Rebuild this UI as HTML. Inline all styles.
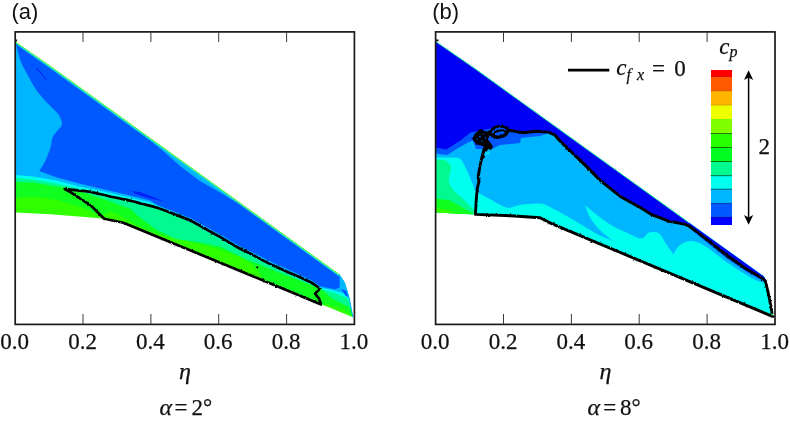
<!DOCTYPE html>
<html>
<head>
<meta charset="utf-8">
<title>Figure</title>
<style>
html,body{margin:0;padding:0;background:#fff;}
body{width:790px;height:422px;overflow:hidden;}
svg{display:block;}
.tk{font-family:"Liberation Serif",serif;font-size:23px;fill:#111;stroke:#111;stroke-width:0.25;}
.it{font-family:"Liberation Serif",serif;font-style:italic;fill:#111;stroke:#111;stroke-width:0.25;}
.lab{font-family:"Liberation Sans",sans-serif;font-size:22px;fill:#111;}
.fr{fill:none;stroke:#1a1a1a;stroke-width:1.7;}
.tick{stroke:#3a3a3a;stroke-width:1;}
.bl{fill:none;stroke:#000;stroke-width:2.6;stroke-linejoin:round;stroke-linecap:round;}
</style>
</head>
<body>
<svg width="790" height="422" viewBox="0 0 790 422">
<defs>
<clipPath id="wa"><path d="M15.2,41.7 L53.1,68.2 L339.3,274.6 L344.7,283.1 L349.3,298.5 L352.9,317.3 L123.4,222.8 L104.2,218.7 L91,217.5 L50.5,214.3 L15.2,212.5 Z"/></clipPath>
<clipPath id="wb"><path d="M436,41.7 L474.5,68.3 L763.5,276 L765.8,279.6 L769.2,294.2 L772.2,309.6 L773,317 L551.5,224.2 L540,217.8 L511,215.8 L475.6,214.4 L436,212.4 Z"/></clipPath>
<filter id="rough" x="-5%" y="-5%" width="110%" height="110%"><feTurbulence type="fractalNoise" baseFrequency="0.55" numOctaves="2" seed="3" result="n"/><feDisplacementMap in="SourceGraphic" in2="n" scale="2.2" xChannelSelector="R" yChannelSelector="G"/></filter>
</defs>
<rect width="790" height="422" fill="#fff"/>

<!-- ================= panel a ================= -->
<g clip-path="url(#wa)">
<!-- base: bright green -->
<rect x="10" y="30" width="350" height="300" fill="#30FF00"/>
<!-- green: above B5 -->
<path fill="#10FF20" d="M10,198 L15,198 L33.1,196.6 L56.2,199.7 L79.3,206.6 L94.7,212.8 L102,216 L110,211.5 L119,215 L137.9,225.5 L150,231.5 L165,236 L185.3,240.7 L220,249.5 L240,256.5 L252,264 L259,272 L264,283 L300,298 L323,307 L326,304 L338,307.5 L346,310.5 L352,316 L360,318 L360,30 L10,30 Z"/>
<!-- green-cyan: above B4 -->
<path fill="#00FA90" d="M10,182 L15,182 L33.1,182.5 L56.2,186.5 L64,187.5 L87,193.5 L100,198 L110.2,201.2 L119,205 L130,208.5 L137.9,216 L156.9,230 L175.8,239 L194.8,241.6 L220,246.4 L241,257 L271.5,269.5 L311,285 L322,290 L333,299 L347,306 L352,310 L360,310 L360,30 L10,30 Z"/>
<!-- cyan: above B3 -->
<path fill="#00FFEE" d="M10,178 L15,178 L33.1,179.5 L56.2,183.5 L79.3,189 L100,193.5 L131.5,201 L150,205 L175.8,216 L190.5,222.5 L231,245.5 L270.5,266 L311,284 L321,289 L335,293 L347,298 L352,304 L360,304 L360,30 L10,30 Z"/>
<!-- light blue: above B2 -->
<path fill="#00B6FF" d="M10,175 L15,175 L33.1,176.6 L56.2,180.4 L79.3,186.6 L102.4,191.2 L130,197.5 L150,202.5 L175.8,213.5 L190.5,220 L231,243 L270.5,263.5 L311,281.8 L320,287.5 L334,290.5 L343,293 L348,296 L352,300 L360,300 L360,30 L10,30 Z"/>
<!-- blue -->
<path fill="#0058FF" d="M15.6,42.5 C15.8,43.1 15.7,42.9 16.5,46.0 C17.4,49.1 18.9,56.6 20.7,61.3 C22.5,66.0 24.6,69.5 27.1,74.1 C29.6,78.7 32.4,84.4 35.6,89.0 C38.8,93.6 42.8,98.0 46.3,101.9 C49.8,105.8 54.3,109.3 56.9,112.5 C59.5,115.7 60.9,118.8 61.6,121.0 C62.4,123.2 62.1,124.4 61.4,126.0 C60.7,127.6 59.1,128.5 57.6,130.4 C56.1,132.3 53.7,134.6 52.5,137.5 C51.3,140.4 51.7,143.7 50.5,147.6 C49.3,151.5 47.3,156.9 45.4,160.8 C43.5,164.7 40.3,169.3 39.3,171.0 L56.2,177.3 L79.3,183.5 L102.4,188.9 L130,195.5 L150,200.5 L158,205.5 L174,211.5 L190.8,218.3 L206.2,226.8 L221.6,235.3 L237,244.5 L252.4,252.2 L271.5,262 L293.8,272 L311,280 L320.8,286.5 L334.7,289.3 L339.6,287.7 L339.6,276.8 L300,248.3 L240,204.6 L223,194.3 L200,181 L180,166 L162,150 L150,140.6 L100,104.6 L53,70.5 L19,46.5 Z"/>
<!-- dark streaks -->
<path fill="none" stroke="#0028F4" stroke-width="1.1" stroke-linecap="round" d="M36.7,68.4 L46.3,79.5"/><circle cx="33.5" cy="65.2" r="0.6" fill="#0028F4"/>
<path fill="#0020F8" d="M131,191 L140,192 L152,196.5 L164,201.5 L150,198.5 L136,194 Z"/>
<!-- tip details -->
<path fill="#0058FF" d="M341,289 L347,291 L349,298 L345,295 Z"/>
</g>
<!-- leading-edge rainbow -->
<path d="M15.2,42.6 L53.1,69.1 L339.3,275.5" fill="none" stroke="#20E8D0" stroke-width="1.2"/>
<path d="M15.2,41.7 L53.1,68.2 L339.3,274.6" fill="none" stroke="#80FF20" stroke-width="0.9"/>
<path d="M339.3,274.6 L344.7,283.1 L349.3,298.5 L352.9,317.3" fill="none" stroke="#00B6FF" stroke-width="1"/>
<!-- cf contour a -->
<g filter="url(#rough)">
<path class="bl" style="stroke-width:2.7" d="M321.1,304.4 L270.5,283.5 L249.2,274.7 L213.7,260 L170,242 L123.4,222.8 L104.2,218.7 L91,205.6 L70.8,192.4 L64.7,189 C68.1,189.4 79.4,190.4 85.3,191.2 C91.2,192.0 95.2,193.0 100.0,194.0 C104.8,195.0 108.5,196.1 113.8,197.3 C119.0,198.5 126.8,199.9 131.5,201.0 C136.2,202.1 137.6,202.6 142.0,203.8 C146.4,205.0 152.7,206.3 158.0,208.0 C163.3,209.7 168.5,211.9 174.0,214.0 C179.5,216.1 185.4,218.2 190.8,220.8 C196.2,223.4 201.1,226.5 206.2,229.3 C211.3,232.1 216.5,234.9 221.6,237.8 C226.7,240.8 231.9,244.2 237.0,247.0 C242.1,249.8 246.8,251.8 252.4,254.7 C258.0,257.6 263.6,261.0 270.5,264.3 C277.4,267.6 287.1,271.6 293.8,274.6 C300.6,277.6 306.6,280.2 311.0,282.5 C315.4,284.8 318.6,287.6 320.1,288.6 L315,293.7 L319.1,298.7 L321.1,304.4"/>
</g>
<circle cx="257.3" cy="267.3" r="1.1" fill="#000"/>

<!-- ================= panel b ================= -->
<g clip-path="url(#wb)">
<rect x="430" y="30" width="350" height="300" fill="#00FFEE"/>
<!-- bright green / green / green-cyan at root -->
<path fill="#00FA90" d="M430,159.5 L436,159.5 C437.7,159.7 443.5,159.5 446.0,160.8 C448.5,162.1 450.5,164.3 451.0,167.5 C451.5,170.7 448.5,176.3 448.8,180.0 C449.1,183.7 450.6,186.3 453.0,189.5 C455.4,192.7 459.7,195.8 463.0,199.0 C466.3,202.2 470.4,206.3 472.6,208.6 C474.8,210.9 475.4,212.3 476.0,213.0 L476,216 L430,216 Z"/>
<path fill="#10FF20" d="M430,198.6 L436,198.6 L450.2,200.6 L464.4,208.7 L473.5,213.8 L474,216 L430,216 Z"/>
<path fill="#30FF00" d="M430,207.7 L436,207.7 L446,209.7 L460.4,213.2 L462,216 L430,216 Z"/>
<!-- light blue -->
<path fill="#00B6FF" d="M430,157.5 L436,157.5 C438.7,157.5 448.0,157.3 452.0,157.5 C456.0,157.7 457.8,157.5 459.9,158.8 C462.0,160.1 463.1,163.0 464.5,165.5 C465.9,168.0 467.0,170.7 468.4,173.8 C469.8,176.9 471.3,181.0 472.6,184.0 C473.9,187.0 474.8,190.4 476.0,192.0 C477.2,193.6 477.6,192.2 480.0,193.5 C482.4,194.8 486.2,197.2 490.7,199.6 C495.2,202.0 501.9,206.8 507.0,207.7 C512.1,208.5 515.4,205.4 521.1,204.7 C526.8,204.0 535.9,202.9 541.4,203.7 C546.9,204.4 549.7,207.0 554.2,209.2 C558.7,211.4 563.6,214.3 568.4,217.0 C573.1,219.7 578.0,222.8 582.7,225.6 C587.5,228.4 591.8,231.5 596.9,234.1 C602.0,236.7 610.6,240.0 613.3,241.2 C611.0,239.3 603.6,233.8 599.7,229.8 C595.8,225.8 592.2,221.2 589.8,217.0 C587.4,212.8 586.0,206.9 585.2,204.9 C587.2,206.6 592.6,211.6 596.9,214.9 C601.2,218.2 606.4,222.1 611.1,224.9 C615.8,227.8 620.3,229.7 625.3,232.0 C630.3,234.3 637.0,238.5 641.0,238.6 C645.0,238.7 646.1,233.3 649.1,232.5 C652.1,231.7 656.5,231.8 659.2,233.5 C661.9,235.2 662.9,239.2 665.3,242.7 C667.7,246.2 672.2,252.4 673.6,254.3 C674.6,252.7 676.8,247.1 679.9,244.9 C683.0,242.7 687.8,240.7 692.3,241.1 C696.8,241.5 701.8,244.1 707.2,247.4 C712.6,250.7 717.6,255.9 724.6,260.8 C731.6,265.7 743.1,273.3 749.5,277.0 C755.9,280.7 760.9,282.0 763.2,283.0 L770,283 L770,30 L430,30 Z"/>
<!-- medium blue -->
<path fill="#0058FF" d="M430,153.6 L436,153.6 L447,155 L460,147 L467.6,142.8 L472.7,140.3 L476,149 L492,149 L500,145 L520,143 L521,138 L540,136 L548.6,133 L600,100 L500,60 L430,60 Z"/>
<path fill="#0058FF" d="M693,231 L708,243.5 L727,258.5 L746,271.5 L761,280 L764.4,278.5 L700,232 Z"/>
<!-- dark blue -->
<path fill="#0000F4" d="M436,41 L780,288 L770,284 L765,280 L761,277.4 L745.9,268.8 L726.9,255.5 L708,240.4 L689,226.1 L685.6,224.4 L669.4,221.4 L651.1,214.3 L641,208 L620.8,196.8 L600.5,180.6 L580.3,160.4 L567.7,148.6 L560,141 L555,135.3 L548.6,132.1 L536,131.2 L523.3,132.7 L509.4,130.2 L500,126.5 L491,128.5 L480,130.5 L470.5,132.4 L460.4,140.5 L446.2,149.6 L436,147.6 L430,147.6 L430,42 Z"/>
</g>
<path d="M436,41.7 L474.5,68.3 L689,222.6" fill="none" stroke="#40F0A0" stroke-width="1"/>
<!-- cf contour b -->
<g filter="url(#rough)">
<path class="bl" style="stroke-width:2.9" d="M483.7,150 L482.2,156.3 L480,166 L478,177.6 L479,181 L477.4,188 L476.5,196.8 L475.4,214.4 L511,215.8 L540,217.8 L551.5,223.6 L772.3,316.3 L771.5,309.6 L768.5,294.2 L765.4,281 L761,277.4 L745.9,268.8 L726.9,255.5 L708,240.4 L689,226.1 L685.6,224.4 L669.4,221.4 L651.1,214.3 L641,208 L620.8,196.8 L600.5,180.6 L580.3,160.4 L567.7,148.6 L560,141 L555,135.3 L548.6,132.1 L536,131.2 L523.3,132.7 L509.4,130.2"/>
<ellipse cx="499.2" cy="131.8" rx="8.8" ry="5.4" transform="rotate(-9 499.2 131.8)" class="bl" style="stroke-width:2.8"/>
<ellipse cx="499.8" cy="133.4" rx="6.2" ry="2.9" transform="rotate(-12 499.8 133.4)" class="bl" style="stroke-width:2.2"/>
<path fill="#000" stroke="#000" stroke-width="1.2" stroke-linejoin="round" d="M473.1,138.4 L475.4,134.1 L478.3,131.3 L480.6,129.6 L484,131.3 L487.3,132.2 L489.8,130.8 L491,133.6 L488.7,137 L487.3,139.8 L489.6,142.6 L492.3,146.4 L491.3,149.1 L487.7,148.5 L486.4,151 L483.4,151 L484.2,146.6 L483,145.5 L480.2,144.7 L476.4,143.6 L474.5,141.2 Z"/>
<g fill="#0058FF"><rect x="479.2" y="135.8" width="1.4" height="1.6"/><rect x="484.8" y="137.2" width="1.3" height="1.4"/><rect x="481.2" y="140.6" width="1.2" height="1.2"/><rect x="476.6" y="138.2" width="1" height="1.2"/><rect x="482.6" y="133.4" width="1.1" height="1.1"/></g>
<circle cx="482.8" cy="156.8" r="2" fill="#000"/>
</g>
<path fill="#00E8F0" d="M485.5,152.5 L489.5,152.3 L490,154.3 L486,154.6 Z"/>
<!-- legend line and text -->
<path d="M568,70.1 L609.3,70.1" stroke="#000" stroke-width="2.9" fill="none"/>
<text class="it" x="616.2" y="75.4" font-size="23">c</text>
<text class="it" x="626.6" y="80" font-size="16">f</text>
<text class="it" x="637" y="80" font-size="16">x</text>
<text class="tk" x="652" y="75.6">=</text>
<text class="tk" x="674.3" y="75.6">0</text>
<text class="it" x="719.2" y="54" font-size="23">c</text>
<text class="it" x="729.5" y="57" font-size="16">p</text>

<!-- colour bar -->
<g shape-rendering="crispEdges">
<rect x="710.5" y="70" width="21.5" height="7" fill="#FF0000"/>
<rect x="710.5" y="76.5" width="21.5" height="14.6" fill="#FF5A00"/>
<rect x="710.5" y="91" width="21.5" height="14.6" fill="#FFB400"/>
<rect x="710.5" y="105" width="21.5" height="14.6" fill="#EEFF00"/>
<rect x="710.5" y="119" width="21.5" height="14.8" fill="#80FF00"/>
<rect x="710.5" y="133.5" width="21.5" height="14.4" fill="#28FF00"/>
<rect x="710.5" y="147.5" width="21.5" height="14.4" fill="#00FF20"/>
<rect x="710.5" y="161.5" width="21.5" height="14.6" fill="#00FA90"/>
<rect x="710.5" y="175.7" width="21.5" height="14" fill="#00FFEE"/>
<rect x="710.5" y="189.2" width="21.5" height="14.6" fill="#00B6FF"/>
<rect x="710.5" y="203.4" width="21.5" height="14.4" fill="#0058FF"/>
<rect x="710.5" y="217.3" width="21.5" height="7.6" fill="#0000FF"/>
</g>
<g stroke="#063" stroke-width="0.8" opacity="0.85">
<path d="M710.5,133.5 H732 M710.5,147.5 H732 M710.5,161.5 H732" stroke="#030"/>
<path d="M710.5,175.7 H732 M710.5,189.2 H732" stroke="#033"/>
<path d="M710.5,203.4 H732 M710.5,217.3 H732" stroke="#124" opacity="0.6"/>
<path d="M710.5,76.5 H732 M710.5,91 H732 M710.5,105.2 H732" stroke="#620" opacity="0.35"/>
</g>
<!-- arrow -->
<path d="M748.6,74 L748.6,221" stroke="#000" stroke-width="1.5" fill="none"/>
<path d="M748.6,70.2 L753.2,80 L748.6,77.4 L744,80 Z" fill="#000"/>
<path d="M748.6,224.8 L753.2,215 L748.6,217.6 L744,215 Z" fill="#000"/>
<text class="tk" x="758.5" y="154.2">2</text>

<path d="M15.6,39.4 L17.2,39.6 L17,41.4 L15.6,41.6 Z" fill="#111"/>
<path d="M436.2,39.3 L438.8,39.8 L438.4,41.3 L436.2,41.6 Z" fill="#111"/>
<rect x="771.3" y="313.6" width="1.6" height="1.8" fill="#20F060"/>
<!-- ================= frames & ticks ================= -->
<rect class="fr" x="15.2" y="31.9" width="339.2" height="292.5"/>
<rect class="fr" x="435.6" y="31.9" width="339.4" height="292.5"/>
<g class="tick">
<path d="M83,32 V42 M150.9,32 V42 M218.7,32 V42 M286.6,32 V42"/>
<path d="M83,324 V314 M150.9,324 V314 M218.7,324 V314 M286.6,324 V314"/>
<path d="M503.5,32 V42 M571.4,32 V42 M639.2,32 V42 M707.1,32 V42"/>
<path d="M503.5,324 V314 M571.4,324 V314 M639.2,324 V314 M707.1,324 V314"/>
</g>

<!-- ================= labels ================= -->
<text class="lab" x="11.4" y="19.3">(a)</text>
<text class="lab" x="432.2" y="19.3">(b)</text>
<g class="tk" text-anchor="middle">
<text x="14.7" y="349">0.0</text>
<text x="82.5" y="349">0.2</text>
<text x="150.4" y="349">0.4</text>
<text x="218.2" y="349">0.6</text>
<text x="286.1" y="349">0.8</text>
<text x="353.9" y="349">1.0</text>
<text x="435.1" y="349">0.0</text>
<text x="503.0" y="349">0.2</text>
<text x="570.9" y="349">0.4</text>
<text x="638.7" y="349">0.6</text>
<text x="706.6" y="349">0.8</text>
<text x="774.5" y="349">1.0</text>
</g>
<text class="it" x="179" y="378.5" font-size="24">η</text>
<text class="it" x="599.6" y="378.5" font-size="24">η</text>
<text class="it" x="159.4" y="415" font-size="24">α</text>
<text class="tk" x="174.6" y="415">=</text>
<text class="tk" x="191.6" y="415">2°</text>
<text class="it" x="587.6" y="415" font-size="24">α</text>
<text class="tk" x="603.3" y="415">=</text>
<text class="tk" x="620" y="415">8°</text>
</svg>
</body>
</html>
